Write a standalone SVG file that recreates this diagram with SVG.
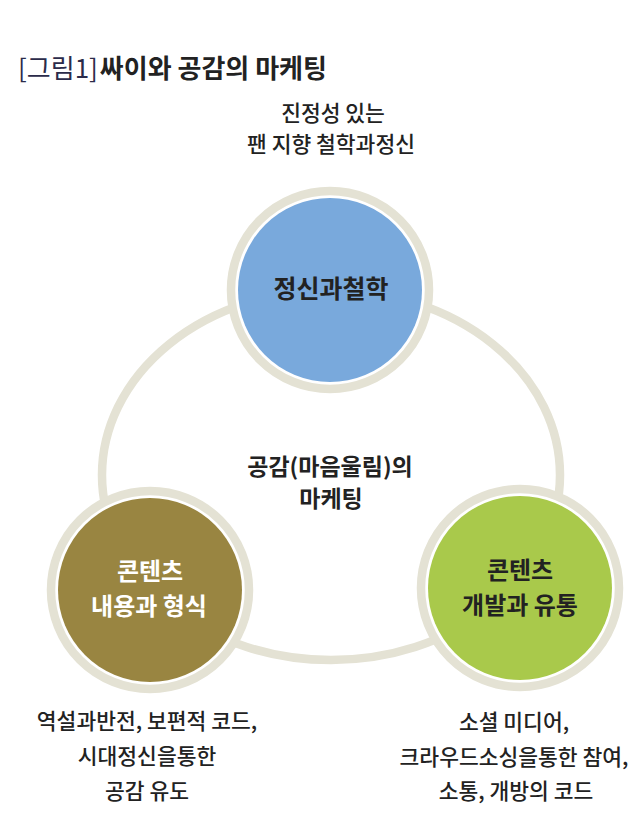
<svg xmlns="http://www.w3.org/2000/svg" width="640" height="831" viewBox="0 0 640 831">
<style>
text{font-family:"Noto Sans CJK KR","Noto Sans",sans-serif;text-anchor:middle;fill:#222;}
.ring{fill:#fff;stroke:#e4e2d4;stroke-width:8.5;}
.lbl{font-size:21.5px;font-weight:500;}
.node{font-size:24px;font-weight:700;}
</style>
<rect width="640" height="831" fill="#fff"/>
<g id="title">
<text x="18" y="78" style="text-anchor:start;font-size:26px;"><tspan font-weight="400" fill="#2b2b4a">[그림1]</tspan><tspan font-weight="700" dx="2">싸이와 공감의 마케팅</tspan></text>
</g>
<g id="connectors">
<ellipse cx="331" cy="475" rx="229" ry="185" fill="none" stroke="#e4e2d4" stroke-width="8.5"/>
</g>
<g id="center-label">
<text x="330" y="475" style="font-size:23px;font-weight:700;">공감(마음울림)의</text>
<text x="331" y="507" style="font-size:23px;font-weight:700;">마케팅</text>
</g>
<g id="node-top">
<circle class="ring" cx="330" cy="290" r="99"/>
<circle cx="330" cy="290" r="92" fill="#79a9dc"/>
<text class="node" x="331" y="298" style="font-size:25px;">정신과철학</text>
</g>
<g id="node-left">
<circle class="ring" cx="150" cy="590" r="99"/>
<circle cx="150" cy="590" r="92" fill="#998541"/>
<text class="node" x="150" y="580" style="fill:#fff;">콘텐츠</text>
<text class="node" x="149" y="615" style="fill:#fff;">내용과 형식</text>
</g>
<g id="node-right">
<circle class="ring" cx="520" cy="588" r="99"/>
<circle cx="520" cy="588" r="92" fill="#a9c94b"/>
<text class="node" x="520" y="579">콘텐츠</text>
<text class="node" x="520" y="614">개발과 유통</text>
</g>
<g id="label-top">
<text class="lbl" x="333" y="121">진정성 있는</text>
<text class="lbl" x="331" y="152">팬 지향 철학과정신</text>
</g>
<g id="label-left">
<text class="lbl" x="147" y="729">역설과반전, 보편적 코드,</text>
<text class="lbl" x="147" y="764">시대정신을통한</text>
<text class="lbl" x="147" y="799">공감 유도</text>
</g>
<g id="label-right">
<text class="lbl" x="514" y="730">소셜 미디어,</text>
<text class="lbl" x="514" y="765">크라우드소싱을통한 참여,</text>
<text class="lbl" x="516" y="799">소통, 개방의 코드</text>
</g>
</svg>
